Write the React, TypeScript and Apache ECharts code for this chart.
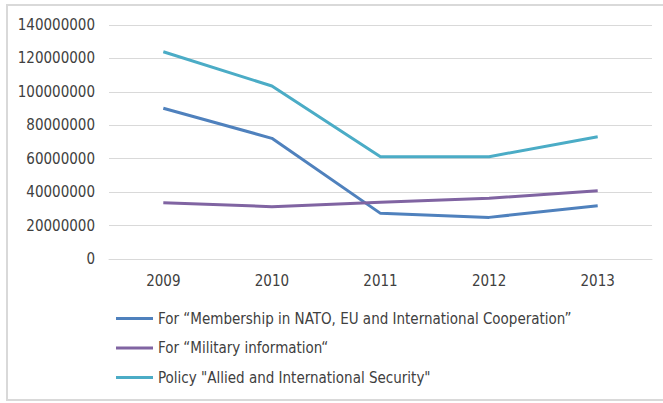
import React, { useEffect, useRef } from "react";
import * as echarts from "echarts";

const years = ["2009", "2010", "2011", "2012", "2013"];
const seriesNames = [
  "For \u201cMembership in NATO, EU and International Cooperation\u201d",
  "For \u201cMilitary information\u201c",
  "Policy \"Allied and International Security\"",
];
const membership = [90200000, 72200000, 27300000, 24900000, 31900000];
const military = [33700000, 31300000, 33900000, 36300000, 40900000];
const policy = [124000000, 103500000, 61200000, 61200000, 73200000];
const colors = ["#4F81BD", "#8064A2", "#4BACC6"];

export default function App() {
  const ref = useRef<HTMLDivElement>(null);
  useEffect(() => {
    const chart = echarts.init(ref.current!, null, { renderer: "svg" });
    const font = "'Liberation Sans Narrow', 'DejaVu Sans Condensed', 'Liberation Sans', sans-serif";
    chart.setOption({
      animation: false,
      backgroundColor: "#ffffff",
      color: colors,
      grid: { left: 109, right: 11, top: 25, bottom: 144 },
      xAxis: {
        type: "category",
        data: years,
        boundaryGap: true,
        axisLine: { show: true, lineStyle: { color: "#d9d9d9", width: 1 } },
        axisTick: { show: false },
        axisLabel: { color: "#404040", fontSize: 15, fontFamily: font, margin: 14 },
      },
      yAxis: {
        type: "value",
        min: 0,
        max: 140000000,
        interval: 20000000,
        axisLine: { show: false },
        axisTick: { show: false },
        splitLine: { lineStyle: { color: "#d9d9d9", width: 1 } },
        axisLabel: {
          color: "#404040",
          fontSize: 15,
          fontFamily: font,
          margin: 14,
          formatter: (v: number) => String(v),
        },
      },
      legend: {
        orient: "vertical",
        left: 111,
        top: 306,
        itemWidth: 37,
        itemHeight: 3,
        itemGap: 14.5,
        icon: "rect",
        textStyle: { color: "#404040", fontSize: 15, fontFamily: font },
        data: seriesNames,
      },
      series: [
        { name: seriesNames[0], type: "line", data: membership },
        { name: seriesNames[1], type: "line", data: military },
        { name: seriesNames[2], type: "line", data: policy },
      ].map((s, i) => ({
        ...s,
        showSymbol: false,
        symbol: "none",
        lineStyle: { width: 3, color: colors[i] },
        itemStyle: { color: colors[i] },
      })),
    });
    return () => chart.dispose();
  }, []);
  return (
    <div style={{ position: "fixed", left: 0, top: 0, width: 663, height: 403, overflow: "hidden", background: "#fff" }}>
      <div ref={ref} style={{ position: "absolute", left: 0, top: 0, width: 663, height: 403 }} />
      <div
        style={{
          position: "absolute",
          left: 6,
          top: 4,
          width: 700,
          height: 397,
          border: "2px solid #d9d9d9",
          boxSizing: "border-box",
          pointerEvents: "none",
        }}
      />
    </div>
  );
}
